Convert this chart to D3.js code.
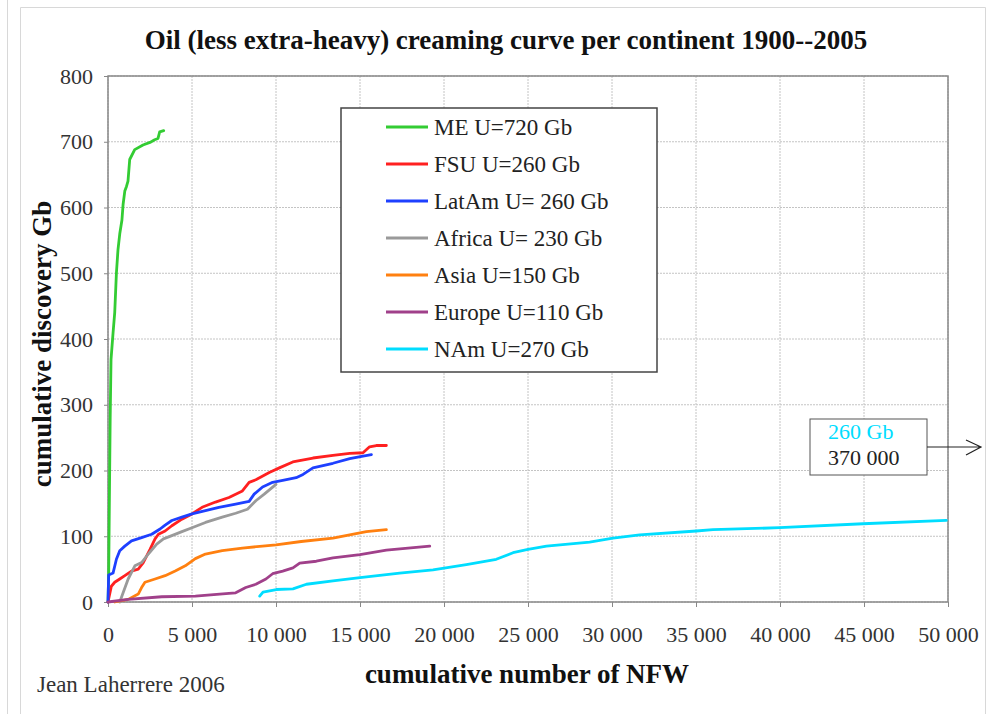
<!DOCTYPE html>
<html lang="en">
	<head>
		<meta charset="utf-8">
		<title>Oil creaming curve per continent</title>
		<script type="text/javascript" src="https://cdn.jsdelivr.net/npm/d3@7"></script>
		<style type="text/css">
			body { margin: 0; background: #fff; }
			text { font-family: "Liberation Serif", "DejaVu Serif", serif; }
		</style>
	</head>
	<body>
		<script type="text/javascript">

			//Width and height
			var w = 987;
			var h = 714;

			//Series (cumulative number of NFW, cumulative discovery Gb)
			var seriesNames = ["ME U=720 Gb", "FSU U=260 Gb", "LatAm U= 260 Gb", "Africa U= 230 Gb",
							   "Asia U=150 Gb", "Europe U=110 Gb", "NAm U=270 Gb"];
			var seriesColors = ["#33cc33", "#ff2020", "#1e40ff", "#9a9a9a", "#ff8010", "#a0408a", "#00ddff"];

			var me = [[0, 0], [40, 40], [80, 150], [130, 280], [180, 369], [300, 409], [400, 440],
					  [500, 500], [595, 536], [700, 560], [830, 581], [900, 605], [1000, 625],
					  [1100, 632], [1190, 640], [1292, 673], [1590, 688], [2083, 695], [2500, 699],
					  [2780, 703], [2976, 705], [3077, 715], [3315, 717]];

			var fsu = [[0, 0], [200, 24], [400, 30], [700, 35], [1000, 40], [1400, 47], [1800, 50],
					   [2100, 60], [2500, 80], [2800, 96], [3000, 103], [3400, 108], [3800, 116],
					   [4400, 126], [5000, 134], [5600, 144], [6400, 152], [7200, 159], [8000, 169],
					   [8400, 182], [8800, 186], [9600, 197], [10200, 204], [11000, 213], [12200, 219],
					   [13390, 223], [14390, 226], [15180, 227], [15570, 236], [15970, 238], [16570, 238]];

			var latam = [[0, 0], [40, 41], [300, 44], [500, 65], [700, 78], [1000, 85], [1400, 93],
						 [2000, 98], [2600, 103], [3100, 111], [3400, 117], [3800, 124], [4400, 129],
						 [5000, 134], [5800, 139], [6600, 144], [7600, 149], [8400, 153], [8700, 164],
						 [9200, 175], [9800, 182], [10400, 185], [11200, 189], [11610, 194], [12200, 204],
						 [13390, 211], [14390, 218], [15180, 222], [15680, 224]];

			var africa = [[700, 0], [900, 14], [1200, 35], [1600, 55], [2000, 60], [2400, 73],
						  [2900, 88], [3300, 96], [3800, 101], [4400, 107], [5000, 113], [5800, 121],
						  [6800, 129], [7600, 135], [8300, 141], [8800, 154], [9300, 164], [10000, 179]];

			var asia = [[400, 0], [1200, 4], [1800, 12], [2000, 22], [2200, 30], [2800, 35],
						[3400, 40], [4000, 47], [4600, 55], [5200, 66], [5800, 73], [6800, 78],
						[8000, 82], [9200, 85], [10000, 87], [11500, 92], [13390, 97], [15380, 107],
						[16570, 110]];

			var europe = [[0, 0], [1200, 4], [3200, 8], [5200, 9], [7200, 13], [7600, 14], [8200, 22],
						  [8800, 27], [9400, 35], [9800, 43], [10400, 47], [11010, 52], [11410, 59],
						  [12400, 62], [13390, 67], [15000, 72], [16570, 79], [19150, 85]];

			var nam = [[9030, 9], [9226, 15], [10020, 19], [11010, 20], [11810, 27], [13390, 32],
					   [15000, 37], [17360, 44], [19345, 49], [21330, 57], [23110, 65], [24110, 75],
					   [25000, 80], [26100, 85], [28670, 91], [30060, 97], [31650, 102], [35020, 108],
					   [36010, 110], [39980, 113], [44940, 119], [49900, 124]];

			var dataset = [me, fsu, latam, africa, asia, europe, nam];

			var xTicks = [0, 5000, 10000, 15000, 20000, 25000, 30000, 35000, 40000, 45000, 50000];
			var yTicks = [0, 100, 200, 300, 400, 500, 600, 700, 800];

			var offChart = ["260 Gb", "370 000"];

			var margin = {left: 108, right: 987 - 948, top: 76, bottom: 714 - 602};

			var xScale = d3.scaleLinear()
			.domain([0, 50000])
			.range([margin.left, w - margin.right]);

			var yScale = d3.scaleLinear()
			.domain([0, 800])
			.range([h - margin.bottom, margin.top]);

			var fmt = function(d){ return d3.format(",")(d).replace(/,/g, " "); };

			//Create SVG element
			var svg = d3.select("body")
						.append("svg")
						.attr("height", h)
						.attr("width", w);

			//page frame
			svg.append("line").attr("x1", 7.5).attr("x2", 7.5).attr("y1", 0).attr("y2", h)
			.attr("stroke", "#d8d8d8");
			svg.append("path").attr("d", "M20.5," + h + "V7.5H985.5V" + h)
			.attr("fill", "none").attr("stroke", "#d8d8d8");

			//grid
			svg.append("g").selectAll("line")
			.data(xTicks)
			.enter()
			.append("line")
			.attr("x1", function(d){ return xScale(d); })
			.attr("x2", function(d){ return xScale(d); })
			.attr("y1", yScale(800))
			.attr("y2", yScale(0))
			.attr("stroke", "#c4c4c4")
			.attr("stroke-dasharray", "2,1");

			svg.append("g").selectAll("line")
			.data(yTicks)
			.enter()
			.append("line")
			.attr("x1", xScale(0))
			.attr("x2", xScale(50000))
			.attr("y1", function(d){ return yScale(d); })
			.attr("y2", function(d){ return yScale(d); })
			.attr("stroke", "#c4c4c4")
			.attr("stroke-dasharray", "2,1");

			//axes
			var xAxis = d3.axisBottom(xScale).tickValues(xTicks).tickFormat(fmt).tickSize(5).tickPadding(19);
			var yAxis = d3.axisLeft(yScale).tickValues(yTicks).tickSize(4).tickPadding(11);

			var gx = svg.append("g")
			.attr("transform", "translate(0," + yScale(0) + ")")
			.call(xAxis);
			var gy = svg.append("g")
			.attr("transform", "translate(" + xScale(0) + ",0)")
			.call(yAxis);

			[gx, gy].forEach(function(g){
				g.select(".domain").remove();
				g.selectAll("line").attr("stroke", "#888");
				g.selectAll("text")
				.attr("font-family", "Liberation Serif")
				.attr("font-size", 22)
				.attr("fill", "#333");
			});

			//plot border
			svg.append("rect")
			.attr("x", xScale(0))
			.attr("y", yScale(800))
			.attr("width", xScale(50000) - xScale(0))
			.attr("height", yScale(0) - yScale(800))
			.attr("fill", "none")
			.attr("stroke", "#888")
			.attr("stroke-width", 1.5);

			//curves
			var line = d3.line()
			.x(function(d){ return xScale(d[0]); })
			.y(function(d){ return yScale(d[1]); });

			svg.append("g").selectAll("path")
			.data(dataset)
			.enter()
			.append("path")
			.attr("d", line)
			.attr("fill", "none")
			.attr("stroke", function(d, i){ return seriesColors[i]; })
			.attr("stroke-width", 2.8)
			.attr("stroke-linejoin", "round")
			.attr("stroke-linecap", "round");

			//legend
			var legend = svg.append("g").attr("transform", "translate(341,108)");
			legend.append("rect")
			.attr("width", 316)
			.attr("height", 264)
			.attr("fill", "#fff")
			.attr("stroke", "#444")
			.attr("stroke-width", 1.5);

			var items = legend.selectAll("g.item")
			.data(seriesNames)
			.enter()
			.append("g")
			.attr("class", "item")
			.attr("transform", function(d, i){ return "translate(0," + (19 + i * 37) + ")"; });

			items.append("line")
			.attr("x1", 45).attr("x2", 87)
			.attr("stroke", function(d, i){ return seriesColors[i]; })
			.attr("stroke-width", 2.8);

			items.append("text")
			.attr("x", 93)
			.attr("y", 8)
			.text(function(d){ return d; })
			.attr("font-size", 23)
			.attr("fill", "#222");

			//off-chart NAm annotation
			svg.append("rect")
			.attr("x", 810).attr("y", 419)
			.attr("width", 117).attr("height", 56)
			.attr("fill", "#fff")
			.attr("stroke", "#555");
			svg.append("text").attr("x", 828).attr("y", 439)
			.text(offChart[0]).attr("font-size", 22).attr("fill", "#00ddff");
			svg.append("text").attr("x", 828).attr("y", 465)
			.text(offChart[1]).attr("font-size", 22).attr("fill", "#222");
			svg.append("path")
			.attr("d", "M927,447H981M966,440L981,447L966,455")
			.attr("fill", "none")
			.attr("stroke", "#222")
			.attr("stroke-width", 1.2);

			//titles
			svg.append("text")
			.attr("x", 506)
			.attr("y", 49)
			.attr("text-anchor", "middle")
			.attr("font-weight", "bold")
			.attr("font-size", 27)
			.attr("fill", "#111")
			.text("Oil (less extra-heavy) creaming curve per continent 1900--2005");

			svg.append("text")
			.attr("transform", "translate(51,344) rotate(-90)")
			.attr("text-anchor", "middle")
			.attr("font-weight", "bold")
			.attr("font-size", 27)
			.attr("fill", "#111")
			.text("cumulative discovery Gb");

			svg.append("text")
			.attr("x", 527)
			.attr("y", 683)
			.attr("text-anchor", "middle")
			.attr("font-weight", "bold")
			.attr("font-size", 27)
			.attr("fill", "#111")
			.text("cumulative number of NFW");

			svg.append("text")
			.attr("x", 37)
			.attr("y", 692)
			.attr("font-size", 23)
			.attr("fill", "#333")
			.text("Jean Laherrere 2006");

		</script>
	</body>
</html>
